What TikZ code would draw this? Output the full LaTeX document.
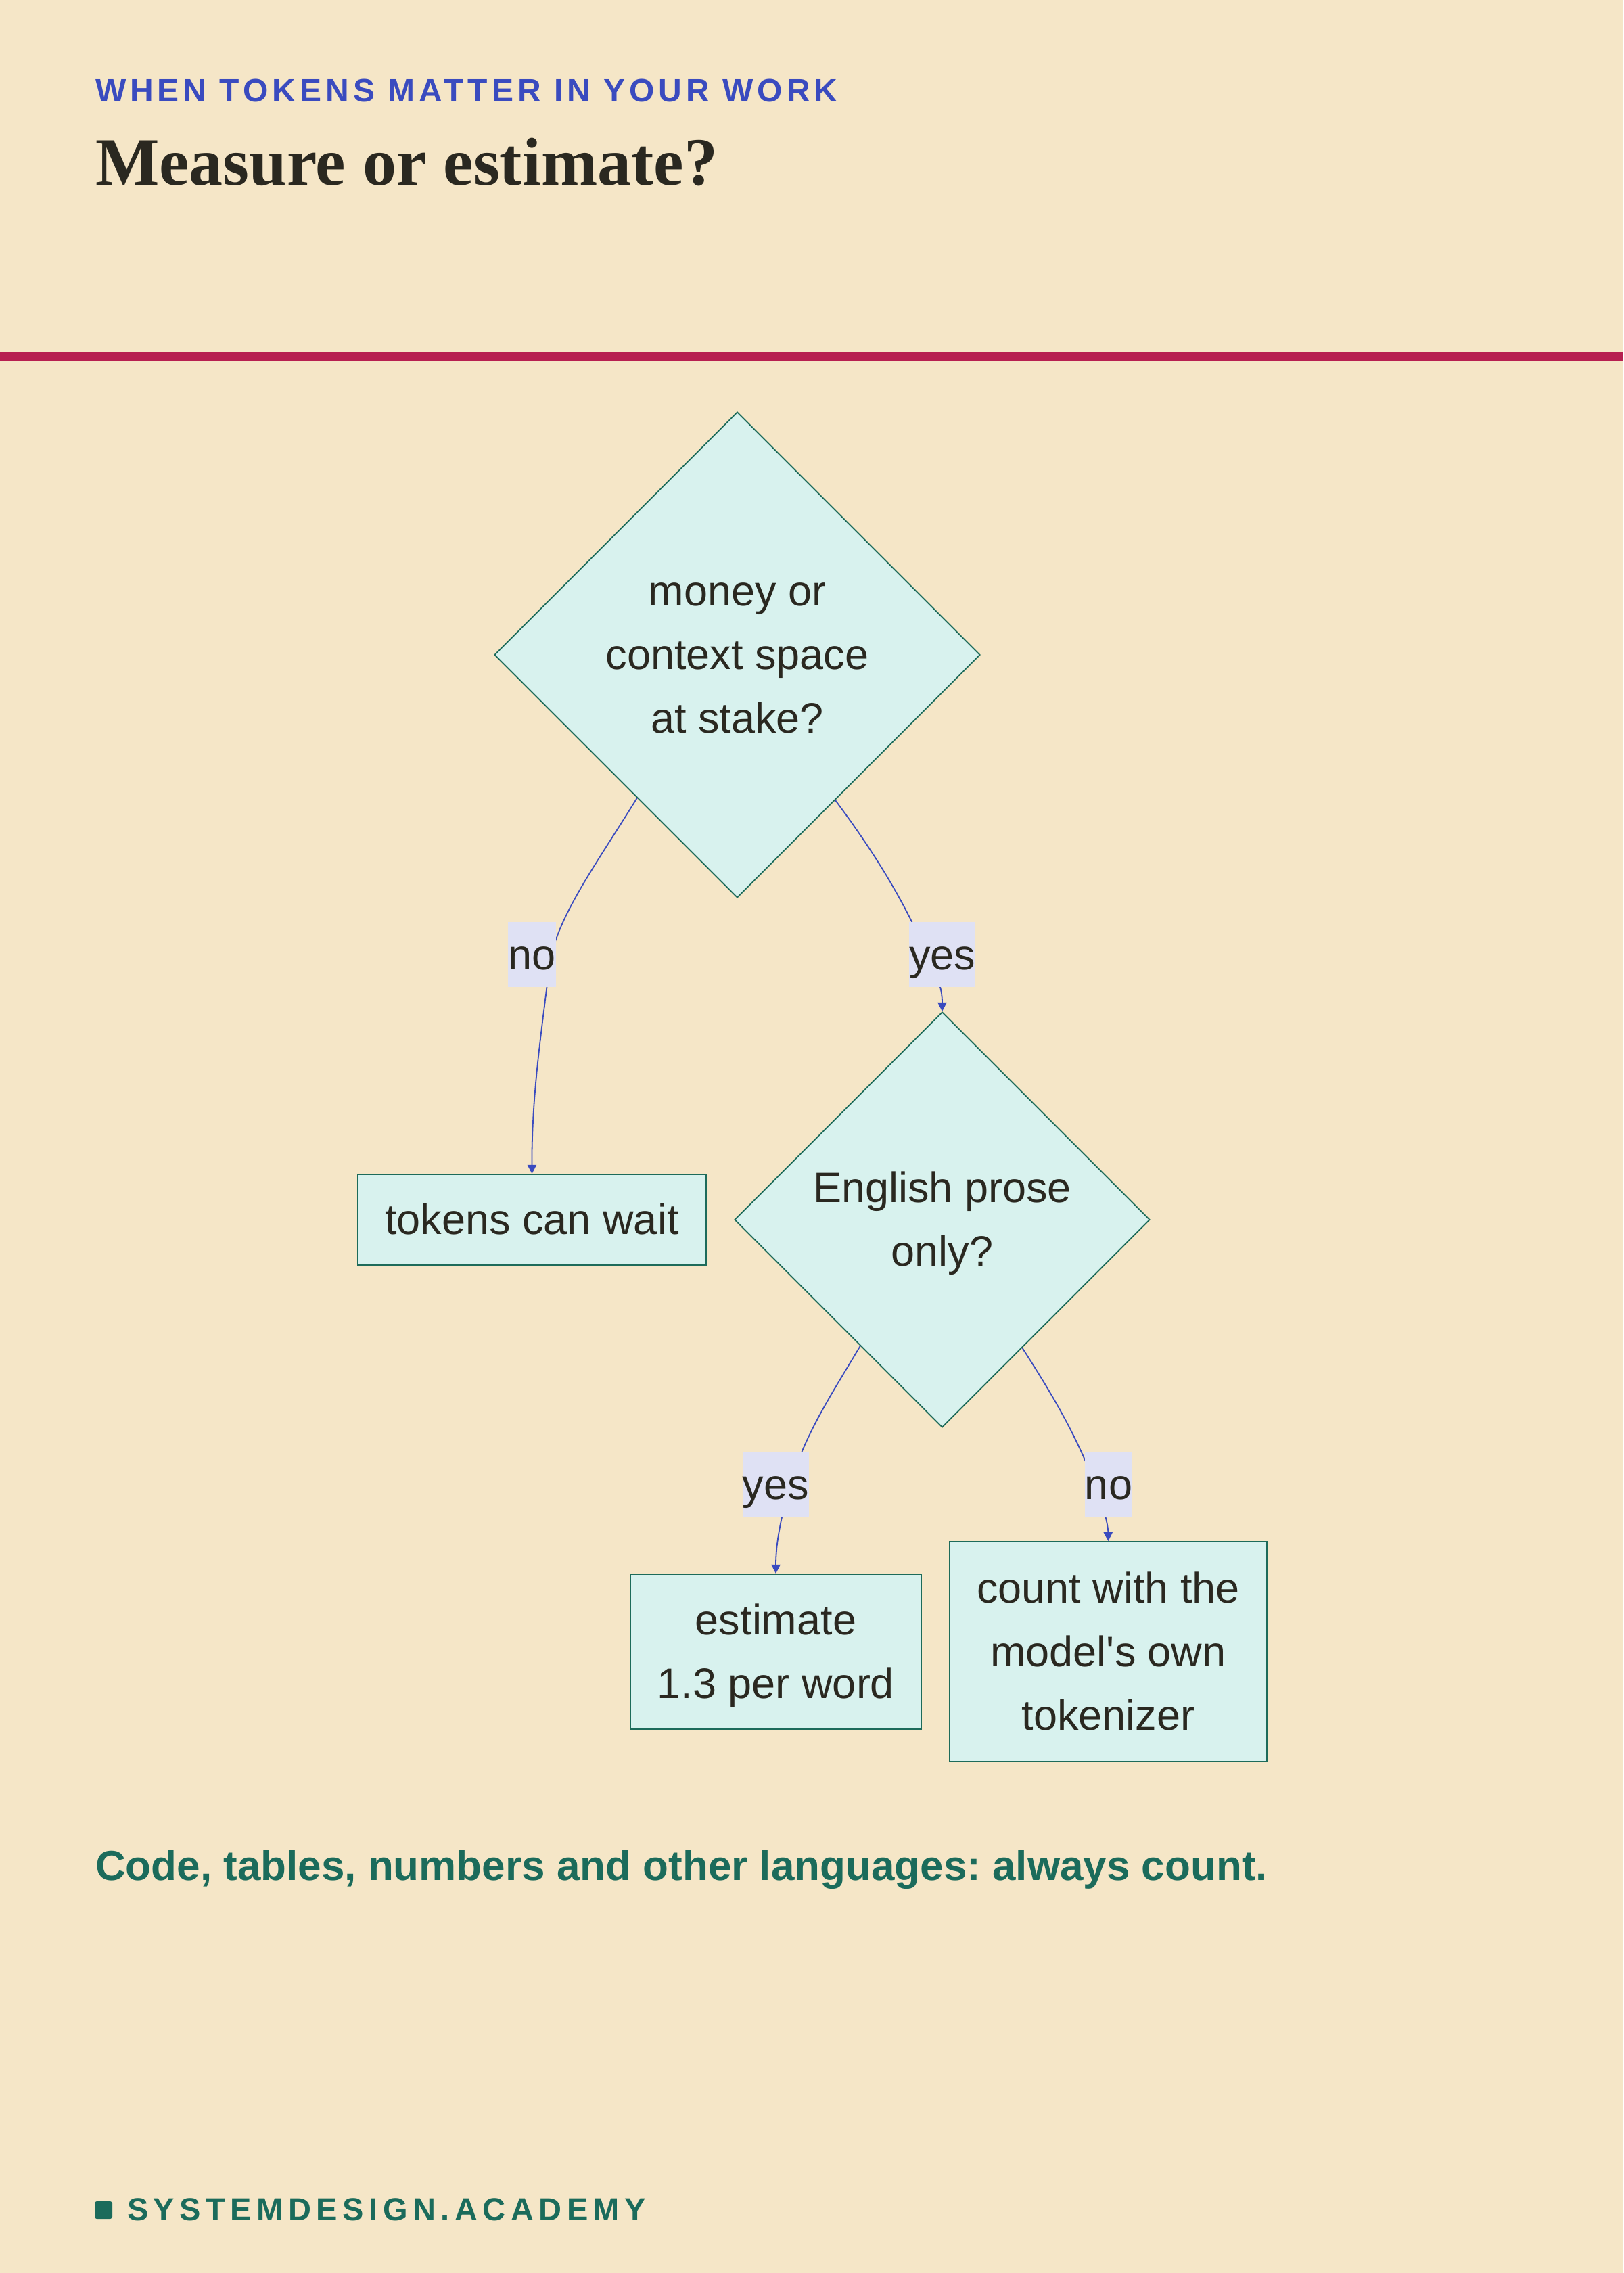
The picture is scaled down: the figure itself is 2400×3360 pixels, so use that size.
\documentclass[tikz,border=0pt]{standalone}
\usepackage{fontspec}
\setmainfont{Liberation Sans}[Ligatures=TeXOff]
\newfontfamily\titlefont{Liberation Serif}
\newfontfamily\kickerfont[LetterSpace=12.5]{Liberation Sans}
\newfontfamily\brandfont[LetterSpace=16]{Liberation Sans}
\usetikzlibrary{shapes.geometric,arrows.meta}
\definecolor{bg}{HTML}{F5E6C7}
\definecolor{rule}{HTML}{B71F50}
\definecolor{kicker}{HTML}{3A4BBF}
\definecolor{ink}{HTML}{2A2820}
\definecolor{nodefill}{HTML}{D8F2EE}
\definecolor{nodeline}{HTML}{1D6B5A}
\definecolor{labelfill}{HTML}{DFE1F4}
\definecolor{edgeblue}{HTML}{3A4BBF}
\definecolor{brand}{HTML}{1B6B5B}
\newcommand\nodetext{\fontsize{15.75pt}{23.5pt}\selectfont}
\newcommand\lstrut{\rule[-6.3pt]{0pt}{23.5pt}}
\frenchspacing
\tikzset{
  decision/.style={diamond, aspect=1, draw=nodeline, fill=nodefill, line width=0.45pt, inner sep=0pt, align=center, font=\nodetext, text=ink},
  outcome/.style={rectangle, draw=nodeline, fill=nodefill, line width=0.45pt, inner sep=0pt, align=center, font=\nodetext, text=ink},
  edgelabel/.style={rectangle, fill=labelfill, inner sep=0pt, minimum height=24pt, text height=14pt, text depth=3pt, font=\nodetext, text=ink},
  flow/.style={draw=edgeblue, line width=0.45pt, -{Triangle[width=3.3pt,length=3.3pt]}},
  plaintext/.style={anchor=base west, inner sep=0pt, outer sep=0pt}
}
\begin{document}
\begin{tikzpicture}[x=0.25pt,y=-0.25pt]
\fill[bg] (0,0) rectangle (2400,3360);
\useasboundingbox (0,0) rectangle (2400,3360);
% header
\node[plaintext, text=kicker, font=\kickerfont\bfseries\fontsize{12pt}{14pt}\selectfont] (kick) at (141,151) {WHEN TOKENS MATTER IN YOUR WORK};
\node[plaintext, text=ink, font=\titlefont\bfseries\fontsize{25pt}{28pt}\selectfont] (title) at (141,274) {Measure or estimate?};
\fill[rule] (0,520) rectangle (2400,534);
% nodes
\node[decision, minimum width=179.5pt, minimum height=179.5pt] (d1) at (1090,968) {\lstrut money or\\\lstrut context space\\\lstrut at stake?};
\node[decision, minimum width=153.5pt, minimum height=153.5pt] (d2) at (1393,1803) {\lstrut English prose\\\lstrut only?};
\node[outcome, minimum width=128.75pt, minimum height=33.5pt] (tokens) at (786.5,1803) {\lstrut tokens can wait};
\node[outcome, minimum width=107.5pt, minimum height=57.25pt] (est) at (1147,2441.5) {\lstrut estimate\\\lstrut 1.3 per word};
\node[outcome, minimum width=117.25pt, minimum height=81.25pt] (count) at (1638.5,2441.5) {\lstrut count with the\\\lstrut model's own\\\lstrut tokenizer};
% connectors
\draw[flow] (d1.235.6) .. controls (880,1280) and (820,1360) .. (812,1430) .. controls (800,1530) and (786,1620) .. (tokens.north);
\draw[flow] (d1.304.4) .. controls (1300,1270) and (1340,1340) .. (1370,1410) .. controls (1385,1440) and (1393,1460) .. (d2.north);
\draw[flow] (d2.237.6) .. controls (1230,2060) and (1190,2120) .. (1170,2190) .. controls (1155,2240) and (1147,2280) .. (est.north);
\draw[flow] (d2.302.4) .. controls (1555,2060) and (1590,2120) .. (1615,2185) .. controls (1630,2225) and (1638,2250) .. (count.north);
% edge labels
\node[edgelabel] (l1) at (786.5,1411) {no};
\node[edgelabel] (l2) at (1393,1411) {yes};
\node[edgelabel] (l3) at (1147,2194.5) {yes};
\node[edgelabel] (l4) at (1639,2194.5) {no};
% footer
\node[plaintext, text=brand, font=\bfseries\fontsize{15.5pt}{18pt}\selectfont] (note) at (141,2779) {Code, tables, numbers and other languages: always count.};
\node[fill=brand, rounded corners=0.8pt, minimum size=6.5pt, inner sep=0pt] (mark) at (153,3267) {};
\node[plaintext, text=brand, font=\brandfont\bfseries\fontsize{11.75pt}{14pt}\selectfont] (site) at (188,3282) {SYSTEMDESIGN.ACADEMY};
\end{tikzpicture}
\end{document}
